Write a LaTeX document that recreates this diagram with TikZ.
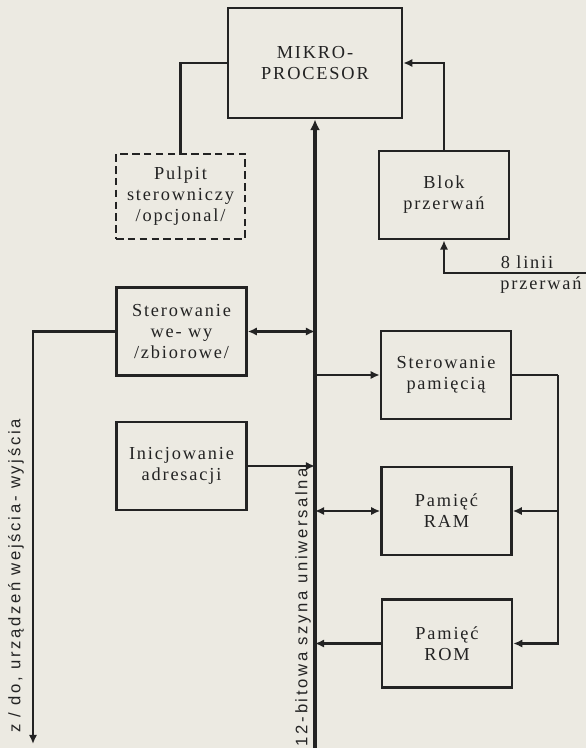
\documentclass[tikz,border=0pt]{standalone}
\usepackage{fontspec}
\setmainfont{Liberation Serif}[LetterSpace=10]
\newfontfamily\buslabelfont{Liberation Sans}[LetterSpace=16]
\usetikzlibrary{arrows.meta}
\definecolor{paper}{RGB}{236,234,226}
\definecolor{ink}{RGB}{35,35,35}
\newcommand{\mkbox}[4][unitbox]{\node[#1] (#2) at (#3) {#4} ;}
\tikzset{
    unitbox/.style={
        draw=ink,
        line width=1.5pt,
        inner sep=0,
        align=center,
        text=ink,
        font=\fontsize{11}{12.6}\selectfont,
        minimum width=78pt,
        minimum height=53pt,
    },
    optbox/.style={
        unitbox,
        dash pattern=on 4.5pt off 2.6pt,
    },
    link/.style={
        draw=ink,
        line width=1.3pt,
        >={Latex[length=5.5pt,width=5pt]},
    },
    busline/.style={
        link,
        line width=1.9pt,
        >={Latex[length=6.5pt,width=6pt]},
    },
    sidelabel/.style={
        text=ink,
        inner sep=0,
        font=\fontsize{11}{12.6}\selectfont,
    },
    rotlabel/.style={
        text=ink,
        inner sep=0,
        rotate=90,
        font=\buslabelfont\fontsize{10}{12}\selectfont,
    },
}
\begin{document}
\begin{tikzpicture}[x=0.6pt,y=-0.6pt]
    \fill[paper] (0,0) rectangle (586,748);
    \useasboundingbox (0,0) rectangle (586,748);

    \mkbox[unitbox,minimum width=104.4pt,minimum height=66pt]{cpu}{315,63}{MIKRO-\\PROCESOR}
    \mkbox[optbox,minimum width=77.4pt,minimum height=51pt]{pulpit}{180.5,196.5}{Pulpit\\sterowniczy\\/opcjonal/}
    \mkbox{blok}{444,195}{Blok\\przerwań}
    \mkbox{sww}{181.5,331.5}{Sterowanie\\we- wy\\/zbiorowe/}
    \mkbox{init}{181.5,466}{Inicjowanie\\adresacji}
    \mkbox{spam}{446,375}{Sterowanie\\pamięcią}
    \mkbox{ram}{446.5,511}{Pamięć\\RAM}
    \mkbox{rom}{447,643.5}{Pamięć\\ROM}

    \coordinate (busend) at (315,748) ;
    \coordinate (ioend) at (33,744) ;
    \coordinate (irqin) at (586,273) ;
    \coordinate (rail) at (558,375) ;

    \draw[busline,->] (busend) -- (cpu.south) ;
    \draw[link] (pulpit.north) |- (cpu.west) ;
    \draw[link,->] (blok.north) |- (cpu.east) ;
    \draw[link,->] (irqin) -| (blok.south) ;
    \node[sidelabel] (irqtop) at (527,262) {8 linii} ;
    \node[sidelabel] (irqbot) at (541,285) {przerwań} ;

    \draw[link,<->] (sww.east) -- (sww.east -| busend) ;
    \draw[link,->] (sww.west) -| (ioend) ;
    \draw[link,->] (init.east) -- (init.east -| busend) ;
    \draw[link,->] (spam.west -| busend) -- (spam.west) ;
    \draw[link,<->] (ram.west -| busend) -- (ram.west) ;
    \draw[link,->] (rom.west) -- (rom.west -| busend) ;

    \draw[link] (spam.east) -- (rail) ;
    \draw[link,->] (rail) |- (rom.east) ;
    \draw[link,->] (ram.east -| rail) -- (ram.east) ;

    \node[rotlabel] (buslabel) at (303,607) {12-bitowa szyna uniwersalna} ;
    \node[rotlabel] (iolabel) at (16,576) {z / do, urządzeń wejścia- wyjścia} ;
\end{tikzpicture}
\end{document}
